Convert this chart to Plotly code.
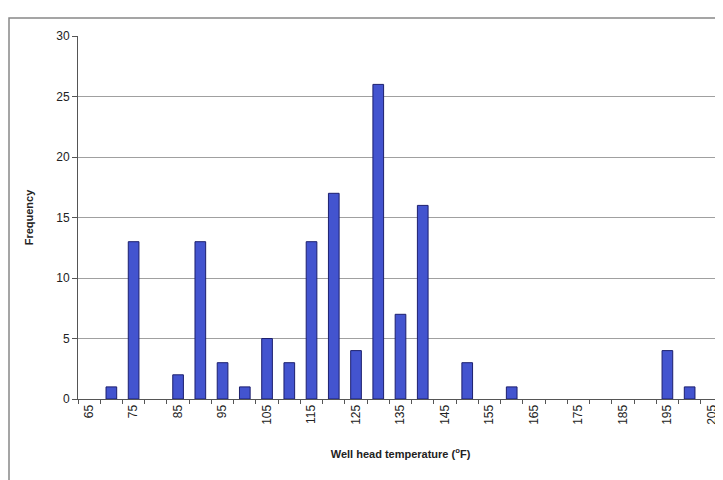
import plotly.graph_objects as go

# well head temperature bins (deg F) and counts
temps = [65, 70, 75, 80, 85, 90, 95, 100, 105, 110, 115, 120, 125, 130, 135,
         140, 145, 150, 155, 160, 165, 170, 175, 180, 185, 190, 195, 200, 205]
freq = [0, 1, 13, 0, 2, 13, 3, 1, 5, 3, 13, 17, 4, 26, 7,
        16, 0, 3, 0, 1, 0, 0, 0, 0, 0, 0, 4, 1, 0]
tick_labels = [65, 75, 85, 95, 105, 115, 125, 135, 145, 155, 165, 175, 185, 195, 205]

# no outline on empty bins
edge_w = [1 if f > 0 else 0 for f in freq]

fig = go.Figure()
fig.add_trace(go.Bar(
    x=temps, y=freq, width=2.4,
    marker=dict(color="#4354cf", line=dict(color="#1c1f6e", width=edge_w)),
))

font = dict(family="Liberation Sans, Arial, sans-serif", size=12, color="#222")

# page body adds an 8px margin, so the figure is a bit smaller than the window
fig.update_layout(
    width=715, height=472,
    margin=dict(l=70, r=0, t=28, b=81),
    paper_bgcolor="white", plot_bgcolor="white",
    showlegend=False, font=font,
    xaxis=dict(
        range=[62.5, 207.5], tickvals=tick_labels, ticktext=[str(t) for t in tick_labels],
        tickangle=-90, ticks="", showgrid=False, zeroline=False, ticklabeloverflow="allow",
        showline=True, linecolor="#555", linewidth=1,
        minor=dict(ticks="outside", tick0=67.5, dtick=5, ticklen=4, tickcolor="#555", showgrid=False),
        title=dict(text="<b>Well head temperature (<sup>o</sup>F)</b>", font=dict(size=11), standoff=26),
    ),
    yaxis=dict(
        range=[0, 30], dtick=5, ticks="outside", ticklen=5, tickcolor="#555",
        showline=True, linecolor="#555", linewidth=1,
        showgrid=True, gridcolor="#a0a0a0", gridwidth=1, zeroline=False,
        title=dict(text="<b>Frequency</b>", font=dict(size=11), standoff=20),
    ),
    # outer chart frame, only its left and top sides fall inside the page
    shapes=[dict(type="rect", xref="paper", yref="paper",
                 x0=(9 - 78) / 645, x1=1.2, y0=-0.4, y1=1 + 18 / 363,
                 line=dict(color="#888", width=1.5), fillcolor="rgba(0,0,0,0)")],
)

fig.write_html("out.html")
